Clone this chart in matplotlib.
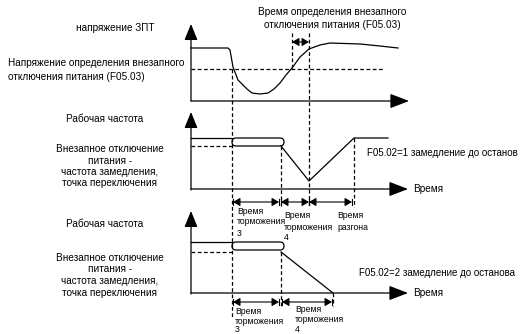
import matplotlib.pyplot as plt
from matplotlib.patches import FancyBboxPatch

plt.rcParams['font.family'] = ['Liberation Sans', 'DejaVu Sans']

# curve of DC bus voltage (pixel coords of the picture)
volt_x = [191, 228, 230, 233, 238, 247, 252, 260, 268, 274, 280, 286, 292, 300, 309, 320, 330, 345, 360, 380, 398]
volt_y = [48, 48, 50, 67, 80, 89, 93, 94, 93, 89, 83, 75, 68, 57, 49, 45, 43, 43.5, 44, 46, 48]

# frequency, mode 1 (decel, then accel back)
f1_x = [281, 309, 354, 388]
f1_y = [146, 181, 138, 138]
# frequency, mode 2 (decel to stop)
f2_x = [281, 333]
f2_y = [252, 293]

dash = (0, (3, 2))
k = 'black'

fig = plt.figure(figsize=(5.22, 3.34), dpi=100)
ax = fig.add_axes([0, 0, 1, 1])
ax.set_xlim(0, 522)
ax.set_ylim(334, 0)
ax.axis('off')


def arrow(x0, y0, x1, y1, hl=1.1, hw=0.45, ms=9):
    ax.annotate('', xy=(x1, y1), xytext=(x0, y0),
                arrowprops=dict(arrowstyle='-|>,head_length=%s,head_width=%s' % (hl, hw),
                                color=k, lw=0.9, mutation_scale=ms, shrinkA=0, shrinkB=0))


def dim(x0, x1, y):
    ax.annotate('', xy=(x1, y), xytext=(x0, y),
                arrowprops=dict(arrowstyle='<|-|>,head_length=0.6,head_width=0.35',
                                color=k, lw=0.8, mutation_scale=7, shrinkA=0, shrinkB=0))
    ax.plot([x0, x0], [y - 3, y + 3], color=k, lw=0.8)
    ax.plot([x1, x1], [y - 3, y + 3], color=k, lw=0.8)


def pill(y):
    ax.add_patch(FancyBboxPatch((232, y), 52, 8, boxstyle='round,pad=0,rounding_size=4',
                                fill=False, ec=k, lw=0.9))


fs = 7.2
# --- panel 1: DC bus voltage
arrow(191, 101, 191, 24)
arrow(191, 101, 409, 101, hl=1.3, hw=0.5)
ax.plot([191, 383], [69, 69], color=k, lw=0.9, ls=dash)
ax.plot(volt_x, volt_y, color=k, lw=0.9)
ax.plot([292, 292], [33, 69], color=k, lw=0.9, ls=dash)
ax.plot([309, 309], [33, 207], color=k, lw=0.9, ls=dash)
ax.annotate('', xy=(309, 42), xytext=(292, 42),
            arrowprops=dict(arrowstyle='<|-|>,head_length=0.6,head_width=0.35',
                            color=k, lw=0.8, mutation_scale=7, shrinkA=0, shrinkB=0))
ax.plot([232, 232], [69, 317], color=k, lw=0.9, ls=dash)

ax.text(332, 12, 'Время определения внезапного', fontsize=fs, ha='center', va='center')
ax.text(332, 25, 'отключения питания (F05.03)', fontsize=fs, ha='center', va='center')
ax.text(115, 28, 'напряжение ЗПТ', fontsize=fs, ha='center', va='center')
ax.text(8, 63, 'Напряжение определения внезапного', fontsize=fs, ha='left', va='center')
ax.text(8, 77, 'отключения питания (F05.03)', fontsize=fs, ha='left', va='center')

# --- panel 2: mode 1
arrow(191, 190, 191, 112)
arrow(191, 189, 408, 189, hl=1.3, hw=0.5)
ax.plot([191, 232], [138, 138], color=k, lw=0.9)
pill(138)
ax.plot([191, 232], [146, 146], color=k, lw=0.9, ls=dash)
ax.plot(f1_x, f1_y, color=k, lw=0.9)
ax.plot([281, 281], [146, 207], color=k, lw=0.9, ls=dash)
ax.plot([354, 354], [138, 207], color=k, lw=0.9, ls=dash)
dim(233, 279, 202)
dim(281, 309, 202)
dim(309, 352, 202)

ax.text(105, 119, 'Рабочая частота', fontsize=fs, ha='center', va='center')
for i, s in enumerate(['Внезапное отключение', 'питания -', 'частота замедления,', 'точка переключения']):
    ax.text(110, 149 + i * 11.5, s, fontsize=fs, ha='center', va='center')
ax.text(367, 153, 'F05.02=1 замедление до останов', fontsize=7, ha='left', va='center')
ax.text(413, 189, 'Время', fontsize=fs, ha='left', va='center')

small = dict(fontsize=6.2, ha='left', va='center')
ax.text(237, 211, 'Время', **small)
ax.text(237, 222, 'торможения', **small)
ax.text(237, 233, '3', **small)
ax.text(284, 216, 'Время', **small)
ax.text(284, 227, 'торможения', **small)
ax.text(284, 238, '4', **small)
ax.text(337, 216, 'Время', **small)
ax.text(337, 227, 'разгона', **small)

# --- panel 3: mode 2
arrow(191, 294, 191, 211)
arrow(191, 293, 408, 293, hl=1.3, hw=0.5)
ax.plot([191, 232], [242, 242], color=k, lw=0.9)
pill(242)
ax.plot([191, 232], [252, 252], color=k, lw=0.9, ls=dash)
ax.plot(f2_x, f2_y, color=k, lw=0.9)
ax.plot([281, 281], [252, 308], color=k, lw=0.9, ls=dash)
ax.plot([333, 333], [293, 306], color=k, lw=0.9, ls=dash)
dim(233, 279, 302)
dim(282, 332, 302)

ax.text(105, 224, 'Рабочая частота', fontsize=fs, ha='center', va='center')
for i, s in enumerate(['Внезапное отключение', 'питания -', 'частота замедления,', 'точка переключения']):
    ax.text(110, 258 + i * 11.5, s, fontsize=fs, ha='center', va='center')
ax.text(359, 273, 'F05.02=2 замедление до останова', fontsize=7, ha='left', va='center')
ax.text(413, 293, 'Время', fontsize=fs, ha='left', va='center')

ax.text(235, 311, 'Время', **small)
ax.text(235, 321, 'торможения', **small)
ax.text(235, 330, '3', **small)
ax.text(295, 310, 'Время', **small)
ax.text(295, 320, 'торможения', **small)
ax.text(295, 330, '4', **small)

fig.savefig('out.png', dpi=100)
